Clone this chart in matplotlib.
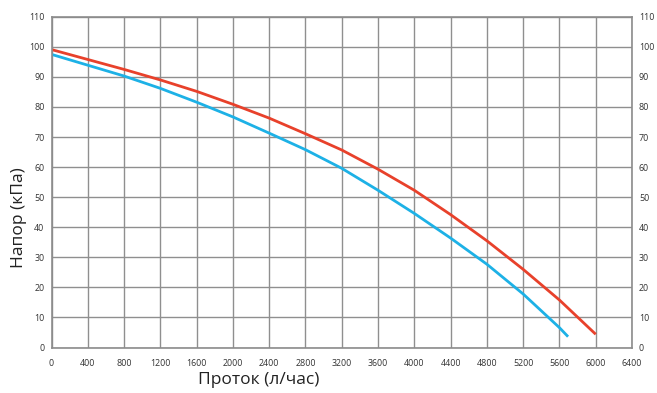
import matplotlib
matplotlib.use("Agg")
import matplotlib.pyplot as plt

flow_red = [0, 400, 800, 1200, 1600, 2000, 2400, 2800, 3200, 3600, 4000, 4400, 4800, 5200, 5600, 6000]
head_red = [99.1, 95.8, 92.5, 89.0, 85.2, 80.9, 76.3, 71.1, 65.7, 59.3, 52.3, 44.2, 35.5, 26.0, 15.8, 4.4]
flow_blue = [0, 400, 800, 1200, 1600, 2000, 2400, 2800, 3200, 3600, 4000, 4400, 4800, 5200, 5600, 5695]
head_blue = [97.5, 93.9, 90.3, 86.2, 81.6, 76.7, 71.3, 65.8, 59.6, 52.3, 44.6, 36.4, 27.7, 17.8, 6.6, 3.6]

xticks = list(range(0, 6401, 400))
yticks = list(range(0, 111, 10))

W, H = 657, 393
fig = plt.figure(figsize=(W / 100, H / 100), dpi=100)
ax = fig.add_axes([51.5 / W, 1 - 347.5 / H, (632 - 51.5) / W, (347.5 - 16.8) / H])

ax.plot(flow_red, head_red, color="#e8412b", lw=2.0, solid_capstyle="butt", solid_joinstyle="round")
ax.plot(flow_blue, head_blue, color="#1db1e6", lw=2.0, solid_capstyle="butt", solid_joinstyle="round")

ax.set_xlim(0, 6400)
ax.set_ylim(0, 110)
ax.set_xticks(xticks)
ax.set_yticks(yticks)
ax.grid(True, color="#8f8f8f", lw=1.0)
ax.set_axisbelow(True)
for s in ax.spines.values():
    s.set_color("#8c8c8c")
    s.set_linewidth(1.2)
ax.tick_params(axis="both", length=0, labelsize=6.4, colors="#333333")
ax.tick_params(axis="x", pad=8)
ax.tick_params(axis="y", pad=5, labelright=True)
for lab in ax.get_xticklabels():
    lab.set_family("Open Sans")
for t in ax.yaxis.get_major_ticks():
    t.label1.set_family("Open Sans")
    t.label2.set_family("Open Sans")

fig.text(259 / W, 1 - 380 / H, "Проток (л/час)", fontsize=12.5, family="Open Sans",
         color="#222222", ha="center", va="center")
fig.text(19 / W, 1 - 218 / H, "Напор (кПа)", fontsize=12.5, family="Open Sans",
         color="#222222", ha="center", va="center", rotation=90)

fig.savefig("out.png", dpi=100)
